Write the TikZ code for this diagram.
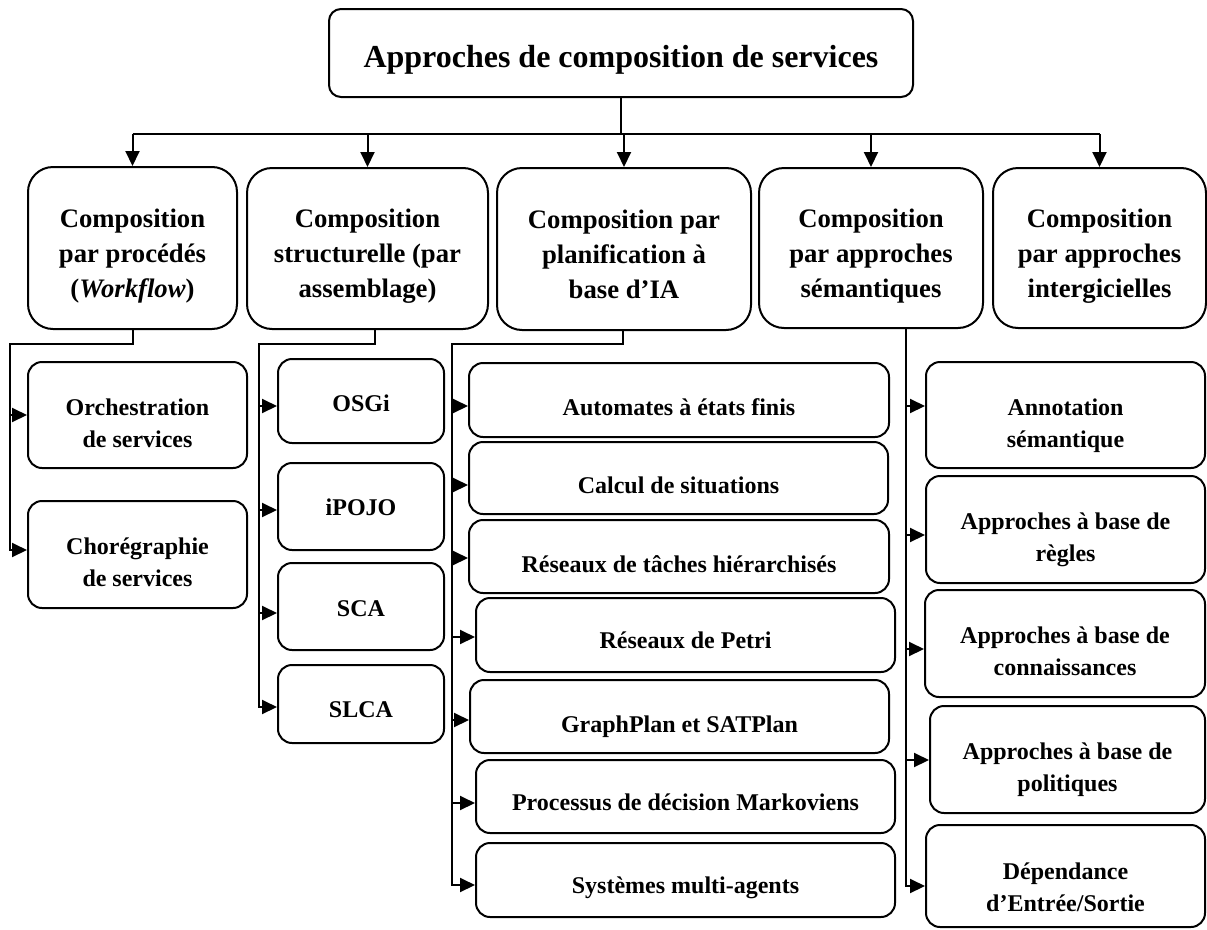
\documentclass[tikz,border=0pt]{standalone}
\usepackage{fontspec}
\setmainfont{Liberation Serif}
\usetikzlibrary{arrows.meta}
% centred lines of text, with an invisible strut of height #1 on the first line
\newcommand\bt[2]{\begin{tabular}{@{}c@{}}\rule{0pt}{#1}#2\end{tabular}}
\begin{document}
\begin{tikzpicture}[x=1pt,y=-1pt,
  basebox/.style={draw, line width=2pt, fill=white, inner sep=0pt},
  topbox/.style={basebox, rounded corners=12pt, font=\bfseries\fontsize{32}{38}\selectfont},
  catbox/.style={basebox, rounded corners=25pt, font=\bfseries\fontsize{26.7}{35}\selectfont},
  subbox/.style={basebox, rounded corners=14pt, font=\bfseries\fontsize{24}{32}\selectfont},
  link/.style={line width=2pt},
  arr/.style={line width=2pt, -{Triangle[length=15pt,width=14pt]}},
]
\useasboundingbox[fill=white] (0,0) rectangle (1207,929);

% title
\node[topbox, minimum width=584pt, minimum height=88pt] (top) at (621,53) {\bt{41pt}{Approches de composition de services}};

% categories
\node[catbox, minimum width=209pt, minimum height=162pt] (c1) at (132.5,248) {\bt{38.5pt}{Composition\\par procédés\\(\textit{Workflow})}};
\node[catbox, minimum width=241pt, minimum height=161pt] (c2) at (367.5,248.5) {\bt{38.5pt}{Composition\\structurelle (par\\assemblage)}};
\node[catbox, minimum width=254pt, minimum height=162pt] (c3) at (624,249) {\bt{38.5pt}{Composition par\\planification à\\base d’IA}};
\node[catbox, minimum width=224pt, minimum height=160pt] (c4) at (871,248) {\bt{38.5pt}{Composition\\par approches\\sémantiques}};
\node[catbox, minimum width=213pt, minimum height=160pt] (c5) at (1099.5,248) {\bt{38.5pt}{Composition\\par approches\\intergicielles}};

% column 1
\node[subbox, minimum width=219pt, minimum height=106pt] (o1) at (137.5,415) {\bt{41.6pt}{Orchestration\\de services}};
\node[subbox, minimum width=219pt, minimum height=107pt] (o2) at (137.5,554.5) {\bt{41.6pt}{Chorégraphie\\de services}};

% column 2
\node[subbox, minimum width=166pt, minimum height=84pt] (s1) at (361,401) {\bt{29.6pt}{OSGi}};
\node[subbox, minimum width=166pt, minimum height=87pt] (s2) at (361,506.5) {\bt{26.6pt}{iPOJO}};
\node[subbox, minimum width=166pt, minimum height=87pt] (s3) at (361,606.5) {\bt{28.6pt}{SCA}};
\node[subbox, minimum width=166pt, minimum height=78pt] (s4) at (361,704) {\bt{35.6pt}{SLCA}};

% column 3
\node[subbox, minimum width=420pt, minimum height=74pt] (p1) at (679,400) {\bt{40.6pt}{Automates à états finis}};
\node[subbox, minimum width=419pt, minimum height=72pt] (p2) at (678.5,478) {\bt{40.6pt}{Calcul de situations}};
\node[subbox, minimum width=420pt, minimum height=73pt] (p3) at (679,556.5) {\bt{40.6pt}{Réseaux de tâches hiérarchisés}};
\node[subbox, minimum width=419pt, minimum height=74pt] (p4) at (685.5,635) {\bt{36.6pt}{Réseaux de Petri}};
\node[subbox, minimum width=419pt, minimum height=73pt] (p5) at (679.5,716.5) {\bt{40.6pt}{GraphPlan et SATPlan}};
\node[subbox, minimum width=419pt, minimum height=73pt] (p6) at (685.5,796.5) {\bt{36.6pt}{Processus de décision Markoviens}};
\node[subbox, minimum width=419pt, minimum height=74pt] (p7) at (685.5,880) {\bt{36.6pt}{Systèmes multi-agents}};

% column 4
\node[subbox, minimum width=279pt, minimum height=106pt] (a1) at (1065.5,415) {\bt{41.6pt}{Annotation\\sémantique}};
\node[subbox, minimum width=279pt, minimum height=107pt] (a2) at (1065.5,529.5) {\bt{41.6pt}{Approches à base de\\règles}};
\node[subbox, minimum width=280pt, minimum height=107pt] (a3) at (1065,643.5) {\bt{41.6pt}{Approches à base de\\connaissances}};
\node[subbox, minimum width=275pt, minimum height=107pt] (a4) at (1067.5,759.5) {\bt{41.6pt}{Approches à base de\\politiques}};
\node[subbox, minimum width=279pt, minimum height=102pt] (a5) at (1065.5,876) {\bt{49pt}{Dépendance\\d’Entrée/Sortie}};

% top level connectors
\coordinate (bus) at (0,134);
\draw[link] (top.south) -- (top.south |- bus);
\draw[link] (c1.north |- bus) -- (c5.north |- bus);
\foreach \c in {c1,c2,c3,c4,c5}
  \draw[arr] (\c.north |- bus) -- (\c.north);

% column 1 connectors
\coordinate (k1) at (10,344);
\draw[arr] (c1.south) |- (k1) |- ([yshift=4.5pt]o2.west);
\draw[arr] (k1 |- o1.west) -- (o1.west);

% column 2 connectors
\coordinate (k2) at (259,344);
\draw[arr] ([xshift=7pt]c2.south) |- (k2) |- ([yshift=-3pt]s4.west);
\draw[arr] ([yshift=-5pt]k2 |- s1.west) -- ([yshift=-5pt]s1.west);
\draw[arr] ([yshift=-3.5pt]k2 |- s2.west) -- ([yshift=-3.5pt]s2.west);
\draw[arr] ([yshift=-6.5pt]k2 |- s3.west) -- ([yshift=-6.5pt]s3.west);

% column 3 connectors
\coordinate (k3) at (452,344);
\draw[arr] ([xshift=-1pt]c3.south) |- (k3) |- ([yshift=-5pt]p7.west);
\draw[arr] ([yshift=-6pt]k3 |- p1.west) -- ([yshift=-6pt]p1.west);
\draw[arr] ([yshift=-7pt]k3 |- p2.west) -- ([yshift=-7pt]p2.west);
\draw[arr] ([yshift=-1.5pt]k3 |- p3.west) -- ([yshift=-1.5pt]p3.west);
\draw[arr] ([yshift=-2pt]k3 |- p4.west) -- ([yshift=-2pt]p4.west);
\draw[arr] ([yshift=-3.5pt]k3 |- p5.west) -- ([yshift=-3.5pt]p5.west);
\draw[arr] ([yshift=-6.5pt]k3 |- p6.west) -- ([yshift=-6.5pt]p6.west);

% column 4 connectors
\coordinate (k4) at ([xshift=35pt]c4.south);
\draw[arr] (k4) |- ([yshift=-10pt]a5.west);
\draw[arr] ([yshift=9pt]k4 |- a1.west) -- ([yshift=9pt]a1.west);
\draw[arr] ([yshift=-5.5pt]k4 |- a2.west) -- ([yshift=-5.5pt]a2.west);
\draw[arr] ([yshift=-5.5pt]k4 |- a3.west) -- ([yshift=-5.5pt]a3.west);
\draw[arr] ([yshift=-0.5pt]k4 |- a4.west) -- ([yshift=-0.5pt]a4.west);
\end{tikzpicture}
\end{document}
